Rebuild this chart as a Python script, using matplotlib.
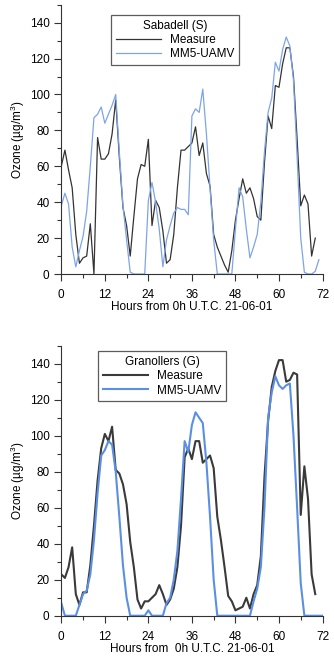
import matplotlib
matplotlib.use("Agg")
import matplotlib.pyplot as plt
from matplotlib.ticker import MultipleLocator

plt.rcParams['font.family'] = ['Liberation Sans', 'DejaVu Sans']
plt.rcParams['mathtext.default'] = 'regular'
plt.rcParams['font.size'] = 8

# Sabadell (S), hourly values from 0h U.T.C. 21-06-01
sab_measure = [60, 69, 58, 48, 22, 6, 9, 10, 28, 0, 76, 64, 64, 67, 78, 97, 65, 37, 27, 10,
               32, 53, 61, 60, 75, 27, 41, 37, 24, 6, 8, 22, 48, 69, 69, 71, 73, 82, 66, 73,
               56, 49, 22, 15, 10, 5, 1, 13, 30, 42, 53, 45, 48, 42, 32, 30, 62, 88, 81, 105,
               104, 117, 126, 126, 110, 75, 38, 44, 39, 10, 20]
sab_model = [38, 45, 39, 15, 4, 13, 21, 35, 60, 87, 89, 93, 84, 89, 94, 100, 68, 38, 19, 1,
             0, 0, 0, 0, 41, 51, 40, 25, 4, 19, 27, 34, 37, 36, 36, 33, 88, 92, 90, 103,
             78, 48, 19, 0, 0, 0, 0, 0, 25, 48, 43, 25, 9, 15, 22, 40, 68, 90, 98, 118,
             113, 125, 132, 127, 108, 65, 20, 1, 0, 0, 1.5, 8]

# Granollers (G)
gra_measure = [23, 21, 27, 38, 12, 6, 13, 13, 28, 50, 75, 93, 101, 97, 105, 81, 79, 73, 62, 41,
               27, 9, 4, 8, 8, 10, 12, 17, 12, 6, 9, 15, 27, 50, 88, 93, 87, 97, 97, 85,
               87, 89, 82, 55, 42, 27, 11, 8, 3, 4, 5, 10, 4, 12, 17, 33, 77, 108, 127, 136,
               142, 142, 130, 131, 135, 134, 56, 83, 65, 23, 12]
gra_model = [7, 0, 0, 0, 0, 6, 12, 14, 23, 42, 68, 89, 92, 97, 95, 80, 55, 28, 10, 0,
             0, 0, 0, 0, 3, 0, 0, 0, 0, 7, 10, 20, 36, 65, 97, 91, 106, 113, 110, 107,
             85, 55, 20, 0, 0, 0, 0, 0, 0, 0, 0, 0, 0, 8, 15, 27, 60, 110, 124, 133,
             128, 126, 128, 129, 100, 60, 18, 0, 0, 0, 0, 0, 0]

x_ticks = [0, 12, 24, 36, 48, 60, 72]


def style_axis(ax):
    ax.set_xlim(0, 72)
    ax.set_ylim(0, 150)
    ax.spines['top'].set_visible(False)
    ax.spines['right'].set_visible(False)
    ax.spines['left'].set_color('#333333')
    ax.spines['bottom'].set_color('#333333')
    ax.set_xticks(x_ticks)
    ax.xaxis.set_minor_locator(MultipleLocator(6))
    ax.set_yticks(range(0, 141, 20))
    ax.yaxis.set_minor_locator(MultipleLocator(10))
    ax.tick_params(which='major', length=5, width=0.8, color='#333333', labelsize=8.5)
    ax.tick_params(which='minor', length=3, width=0.8, color='#333333')
    ax.tick_params(axis='x', which='major', pad=6)
    ax.set_ylabel('Ozone (µg/m$^{3}$)', fontsize=8.5, labelpad=2)


fig = plt.figure(figsize=(3.34, 6.56), dpi=100)

# panel de cima: Sabadell
ax1 = fig.add_axes([0.1835, 0.5823, 0.7821, 0.4105])
ax1.plot(range(len(sab_measure)), sab_measure, color='#333333', lw=0.9, label='Measure')
ax1.plot(range(len(sab_model)), sab_model, color='#7ea4e8', lw=0.9, label='MM5-UAMV')
style_axis(ax1)
ax1.set_xlabel('Hours from 0h U.T.C. 21-06-01', fontsize=8.5, labelpad=0)
leg1 = ax1.legend(title='Sabadell (S)', loc='upper left', bbox_to_anchor=(0.19, 0.962),
                  fontsize=8.5, title_fontsize=8.5, frameon=True, fancybox=False,
                  edgecolor='#333333', handlelength=3.8, borderaxespad=0,
                  labelspacing=0.2, handletextpad=0.8, borderpad=0.4)
leg1.get_frame().set_linewidth(0.9)

# panel de baixo: Granollers
ax2 = fig.add_axes([0.1835, 0.0614, 0.7821, 0.4116])
ax2.plot(range(len(gra_measure)), gra_measure, color='#3a3a3a', lw=1.5, label='Measure')
ax2.plot(range(len(gra_model)), gra_model, color='#5a8fe3', lw=1.5, label='MM5-UAMV')
style_axis(ax2)
ax2.set_xlabel('Hours from  0h U.T.C. 21-06-01', fontsize=8.5, labelpad=0)
leg2 = ax2.legend(title='Granollers (G)', loc='upper left', bbox_to_anchor=(0.1405, 0.98),
                  fontsize=8.5, title_fontsize=8.5, frameon=True, fancybox=False,
                  edgecolor='#333333', handlelength=3.8, borderaxespad=0,
                  labelspacing=0.2, handletextpad=0.8, borderpad=0.4)
leg2.get_frame().set_linewidth(0.9)

fig.savefig('out.png', dpi=100)
